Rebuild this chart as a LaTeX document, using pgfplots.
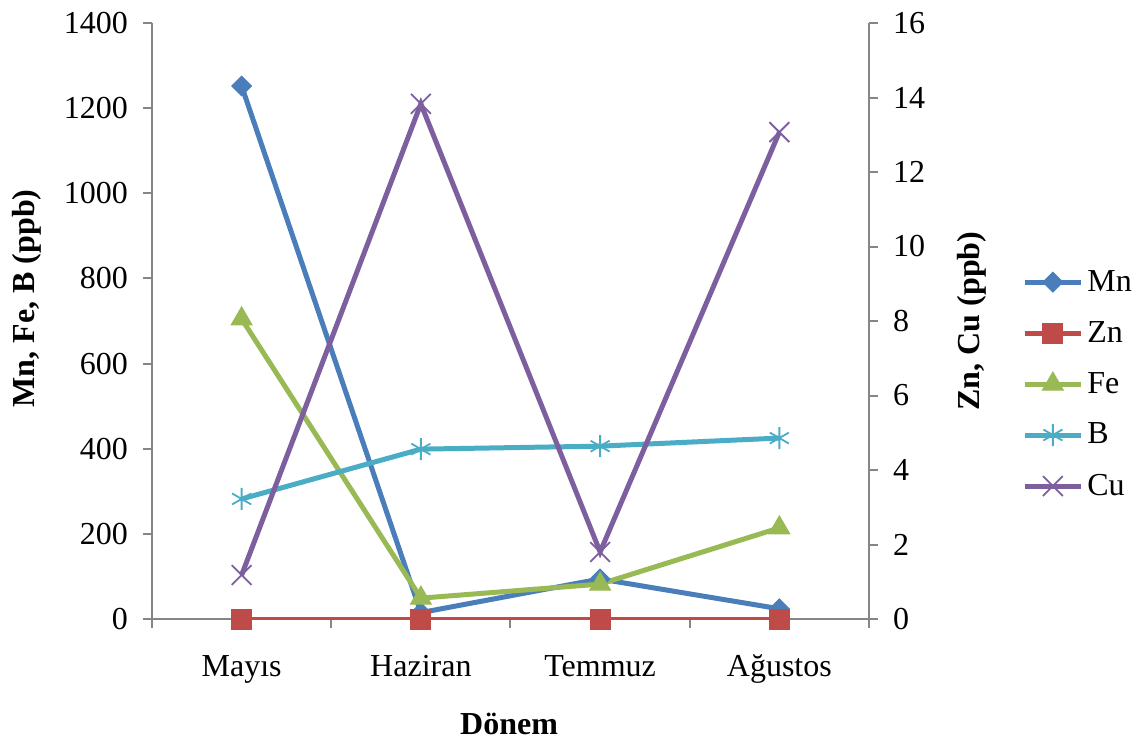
\documentclass[border=0pt]{standalone}
\usepackage{pgfplots}
\pgfplotsset{compat=1.18}
\usepackage{fontspec}
\setmainfont{Liberation Serif}
\definecolor{cMn}{HTML}{4A7EBB}
\definecolor{cZn}{HTML}{BE4B48}
\definecolor{cFe}{HTML}{98B954}
\definecolor{cB}{HTML}{4BACC6}
\definecolor{cCu}{HTML}{7D5FA0}
\definecolor{axgray}{HTML}{868686}
\pgfplotsset{
  mnstyle/.style={color=cMn, line width=2.5pt, mark=square*, mark options={solid, rotate=45, line width=0.5pt, fill=cMn}, mark size=3.5pt},
  znstyle/.style={color=cZn, line width=2.5pt, mark=square*, mark options={solid, line width=0.5pt, fill=cZn}, mark size=5pt},
  festyle/.style={color=cFe, line width=2.5pt, mark=triangle*, mark options={solid, line width=0.5pt, fill=cFe}, mark size=6pt},
  bstyle/.style={color=cB, line width=2.5pt, mark=asterisk, mark options={solid, line width=0.9pt}, mark size=5.5pt},
  custyle/.style={color=cCu, line width=2.5pt, mark=x, mark options={solid, line width=0.9pt}, mark size=7pt},
  common/.style={
    scale only axis, width=358.5pt, height=298pt,
    at={(0,0)}, anchor=south west,
    xmin=-0.5, xmax=3.5,
    font=\fontsize{16}{19}\selectfont,
    /pgf/number format/assume math mode=true,
    tick align=outside,
    axis line style={draw=axgray, line width=1pt},
    every tick/.style={draw=axgray, line width=1pt},
    major tick length=4.5pt, minor tick length=4.5pt,
    legend image code/.code={\draw[mark repeat=2,mark phase=2,##1] plot coordinates {(0pt,0pt) (14pt,0pt) (28pt,0pt)};},
  },
}
\begin{document}
\begin{tikzpicture}
\path[use as bounding box] (-76pt,-60.5pt) rectangle (495pt,309.5pt);
\begin{axis}[common,
  axis x line*=bottom, axis y line*=left,
  ymin=0, ymax=1400, ytick={0,200,...,1400},
  xtick={0,1,2,3}, xticklabels={Mayıs,Haziran,Temmuz,Ağustos},
  minor xtick={-0.5,0.5,1.5,2.5,3.5},
  major x tick style={draw=none},
  xticklabel style={yshift=-10pt},
  yticklabel style={xshift=-4pt},
  xlabel={\textbf{Dönem}},
  ylabel={\textbf{Mn, Fe, B (ppb)}},
  xlabel style={at={(axis description cs:0.498,-0.176)}, anchor=center},
  ylabel style={at={(axis description cs:-0.174,0.538)}, anchor=center, rotate=0},
  y tick label style={/pgf/number format/1000 sep={}},
]
\addplot[mnstyle] coordinates {(0,1252) (1,15) (2,94) (3,24)};
\addplot[znstyle] coordinates {(0,0) (1,0) (2,0) (3,0)};
\addplot[festyle] coordinates {(0,705) (1,49) (2,82) (3,214)};
\addplot[bstyle] coordinates {(0,282) (1,399) (2,406) (3,425)};
\end{axis}
\begin{axis}[common,
  axis x line=none, axis y line*=right,
  ymin=0, ymax=16, ytick={0,2,...,16},
  yticklabel style={xshift=4pt},
  ylabel={\textbf{Zn, Cu (ppb)}},
  ylabel style={at={(axis description cs:1.1437,0.5)}, anchor=center},
  legend style={at={(axis description cs:1.205,0.394)}, anchor=west, draw=none, fill=none, row sep=9.5pt, font=\fontsize{16}{19}\selectfont},
  legend cell align=left,
]
\addlegendimage{mnstyle}\addlegendentry{Mn}
\addlegendimage{znstyle}\addlegendentry{Zn}
\addlegendimage{festyle}\addlegendentry{Fe}
\addlegendimage{bstyle}\addlegendentry{B}
\addplot[custyle] coordinates {(0,1.18) (1,13.83) (2,1.8) (3,13.07)};
\addlegendentry{Cu}
\end{axis}
\end{tikzpicture}
\end{document}
